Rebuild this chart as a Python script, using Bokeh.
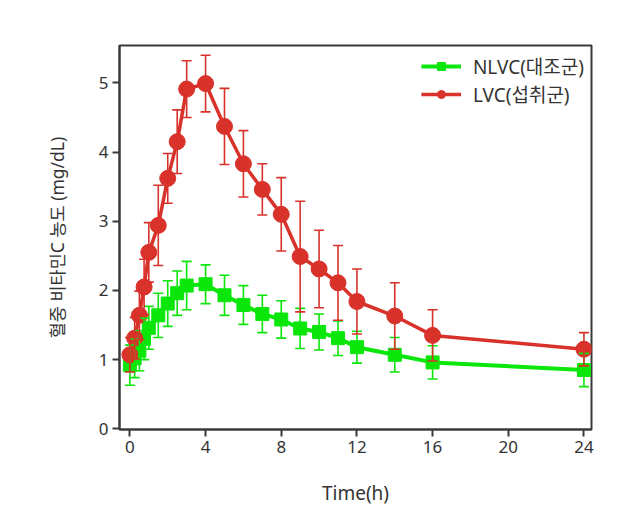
from bokeh.plotting import figure
from bokeh.models import ColumnDataSource, Whisker, TeeHead, Range1d, FixedTicker, Legend, LegendItem
from bokeh.embed import file_html
from bokeh.resources import INLINE

# ---- data ----
time_h = [0, 0.25, 0.5, 0.75, 1, 1.5, 2, 2.5, 3, 4, 5, 6, 7, 8, 9, 10, 11, 12, 14, 16, 24]
lvc_mean = [1.07, 1.31, 1.64, 2.05, 2.55, 2.94, 3.62, 4.15, 4.91, 4.99, 4.37, 3.83, 3.46, 3.10,
            2.49, 2.31, 2.11, 1.84, 1.63, 1.35, 1.15]
lvc_err = [0.25, 0.30, 0.35, 0.40, 0.43, 0.58, 0.36, 0.46, 0.41, 0.41, 0.55, 0.48, 0.37, 0.53,
           0.80, 0.56, 0.54, 0.47, 0.48, 0.37, 0.24]
nlvc_mean = [0.92, 1.02, 1.13, 1.30, 1.46, 1.64, 1.81, 1.96, 2.07, 2.09, 1.93, 1.79, 1.66, 1.58,
             1.45, 1.40, 1.31, 1.18, 1.07, 0.96, 0.85]
nlvc_err = [0.29, 0.28, 0.29, 0.30, 0.31, 0.32, 0.33, 0.32, 0.35, 0.28, 0.29, 0.28, 0.27, 0.27,
            0.29, 0.26, 0.25, 0.23, 0.25, 0.24, 0.24]
x_ticks = [0, 4, 8, 12, 16, 20, 24]
y_ticks = [0, 1, 2, 3, 4, 5]
label_nlvc = "NLVC(대조군)"
label_lvc = "LVC(섭취군)"

GREEN = "#0be60b"
RED = "#d8322b"
AX = "#3a3a3a"
FONT = "'Noto Sans', 'Noto Sans CJK KR', sans-serif"

src_g = ColumnDataSource(dict(t=time_h, y=nlvc_mean,
                              lo=[m - e for m, e in zip(nlvc_mean, nlvc_err)],
                              hi=[m + e for m, e in zip(nlvc_mean, nlvc_err)]))
src_r = ColumnDataSource(dict(t=time_h, y=lvc_mean,
                              lo=[m - e for m, e in zip(lvc_mean, lvc_err)],
                              hi=[m + e for m, e in zip(lvc_mean, lvc_err)]))

p = figure(width=641, height=508, output_backend="svg", toolbar_location=None,
           x_range=Range1d(-0.55, 24.4), y_range=Range1d(-0.01, 5.54),
           min_border_left=119, min_border_right=50, min_border_top=45, min_border_bottom=76)

p.grid.visible = False
p.outline_line_color = AX
p.outline_line_width = 2
p.background_fill_color = "white"
p.border_fill_color = "white"

# green series
lg = p.line("t", "y", source=src_g, color=GREEN, line_width=4)
sg = p.scatter("t", "y", source=src_g, marker="square", size=13, color=GREEN)
# red series
lr = p.line("t", "y", source=src_r, color=RED, line_width=3.5)
sr = p.scatter("t", "y", source=src_r, marker="circle", size=16, color=RED)

wg = Whisker(source=src_g, base="t", lower="lo", upper="hi", level="glyph",
             line_color=GREEN, line_width=1.6,
             upper_head=TeeHead(size=10, line_color=GREEN, line_width=1.6),
             lower_head=TeeHead(size=10, line_color=GREEN, line_width=1.6))
wr = Whisker(source=src_r, base="t", lower="lo", upper="hi", level="glyph",
             line_color=RED, line_width=1.6,
             upper_head=TeeHead(size=10, line_color=RED, line_width=1.6),
             lower_head=TeeHead(size=10, line_color=RED, line_width=1.6))
p.add_layout(wg)
p.add_layout(wr)

# axes
p.xaxis.ticker = FixedTicker(ticks=x_ticks)
p.yaxis.ticker = FixedTicker(ticks=y_ticks)
for ax in (p.xaxis[0], p.yaxis[0]):
    ax.axis_line_color = AX
    ax.axis_line_width = 2
    ax.major_tick_line_color = AX
    ax.major_tick_line_width = 2
    ax.major_tick_out = 7
    ax.major_tick_in = 0
    ax.minor_tick_line_color = None
    ax.major_label_text_font = FONT
    ax.major_label_text_font_size = "17px"
    ax.major_label_text_color = "#333333"
    ax.axis_label_text_font = FONT
    ax.axis_label_text_font_style = "normal"
    ax.axis_label_text_color = "#333333"
    ax.major_label_standoff = 4

p.xaxis.axis_label = "Time(h)"
p.xaxis.axis_label_text_font_size = "19px"
p.xaxis.axis_label_standoff = 24
p.yaxis.axis_label = "혈중 비타민C 농도 (mg/dL)"
p.yaxis.axis_label_text_font_size = "17.5px"
p.yaxis.axis_label_standoff = 27

legend = Legend(items=[LegendItem(label=label_nlvc, renderers=[lg, sg]),
                       LegendItem(label=label_lvc, renderers=[lr, sr])],
                location="top_right")
legend.border_line_color = None
legend.background_fill_alpha = 0
legend.label_text_font = FONT
legend.label_text_font_size = "19px"
legend.label_text_color = "#333333"
legend.glyph_width = 40
legend.glyph_height = 20
legend.spacing = 0
legend.label_standoff = 12
legend.margin = 7
legend.padding = 3
p.add_layout(legend)

open("out.html", "w").write(file_html(p, INLINE))
